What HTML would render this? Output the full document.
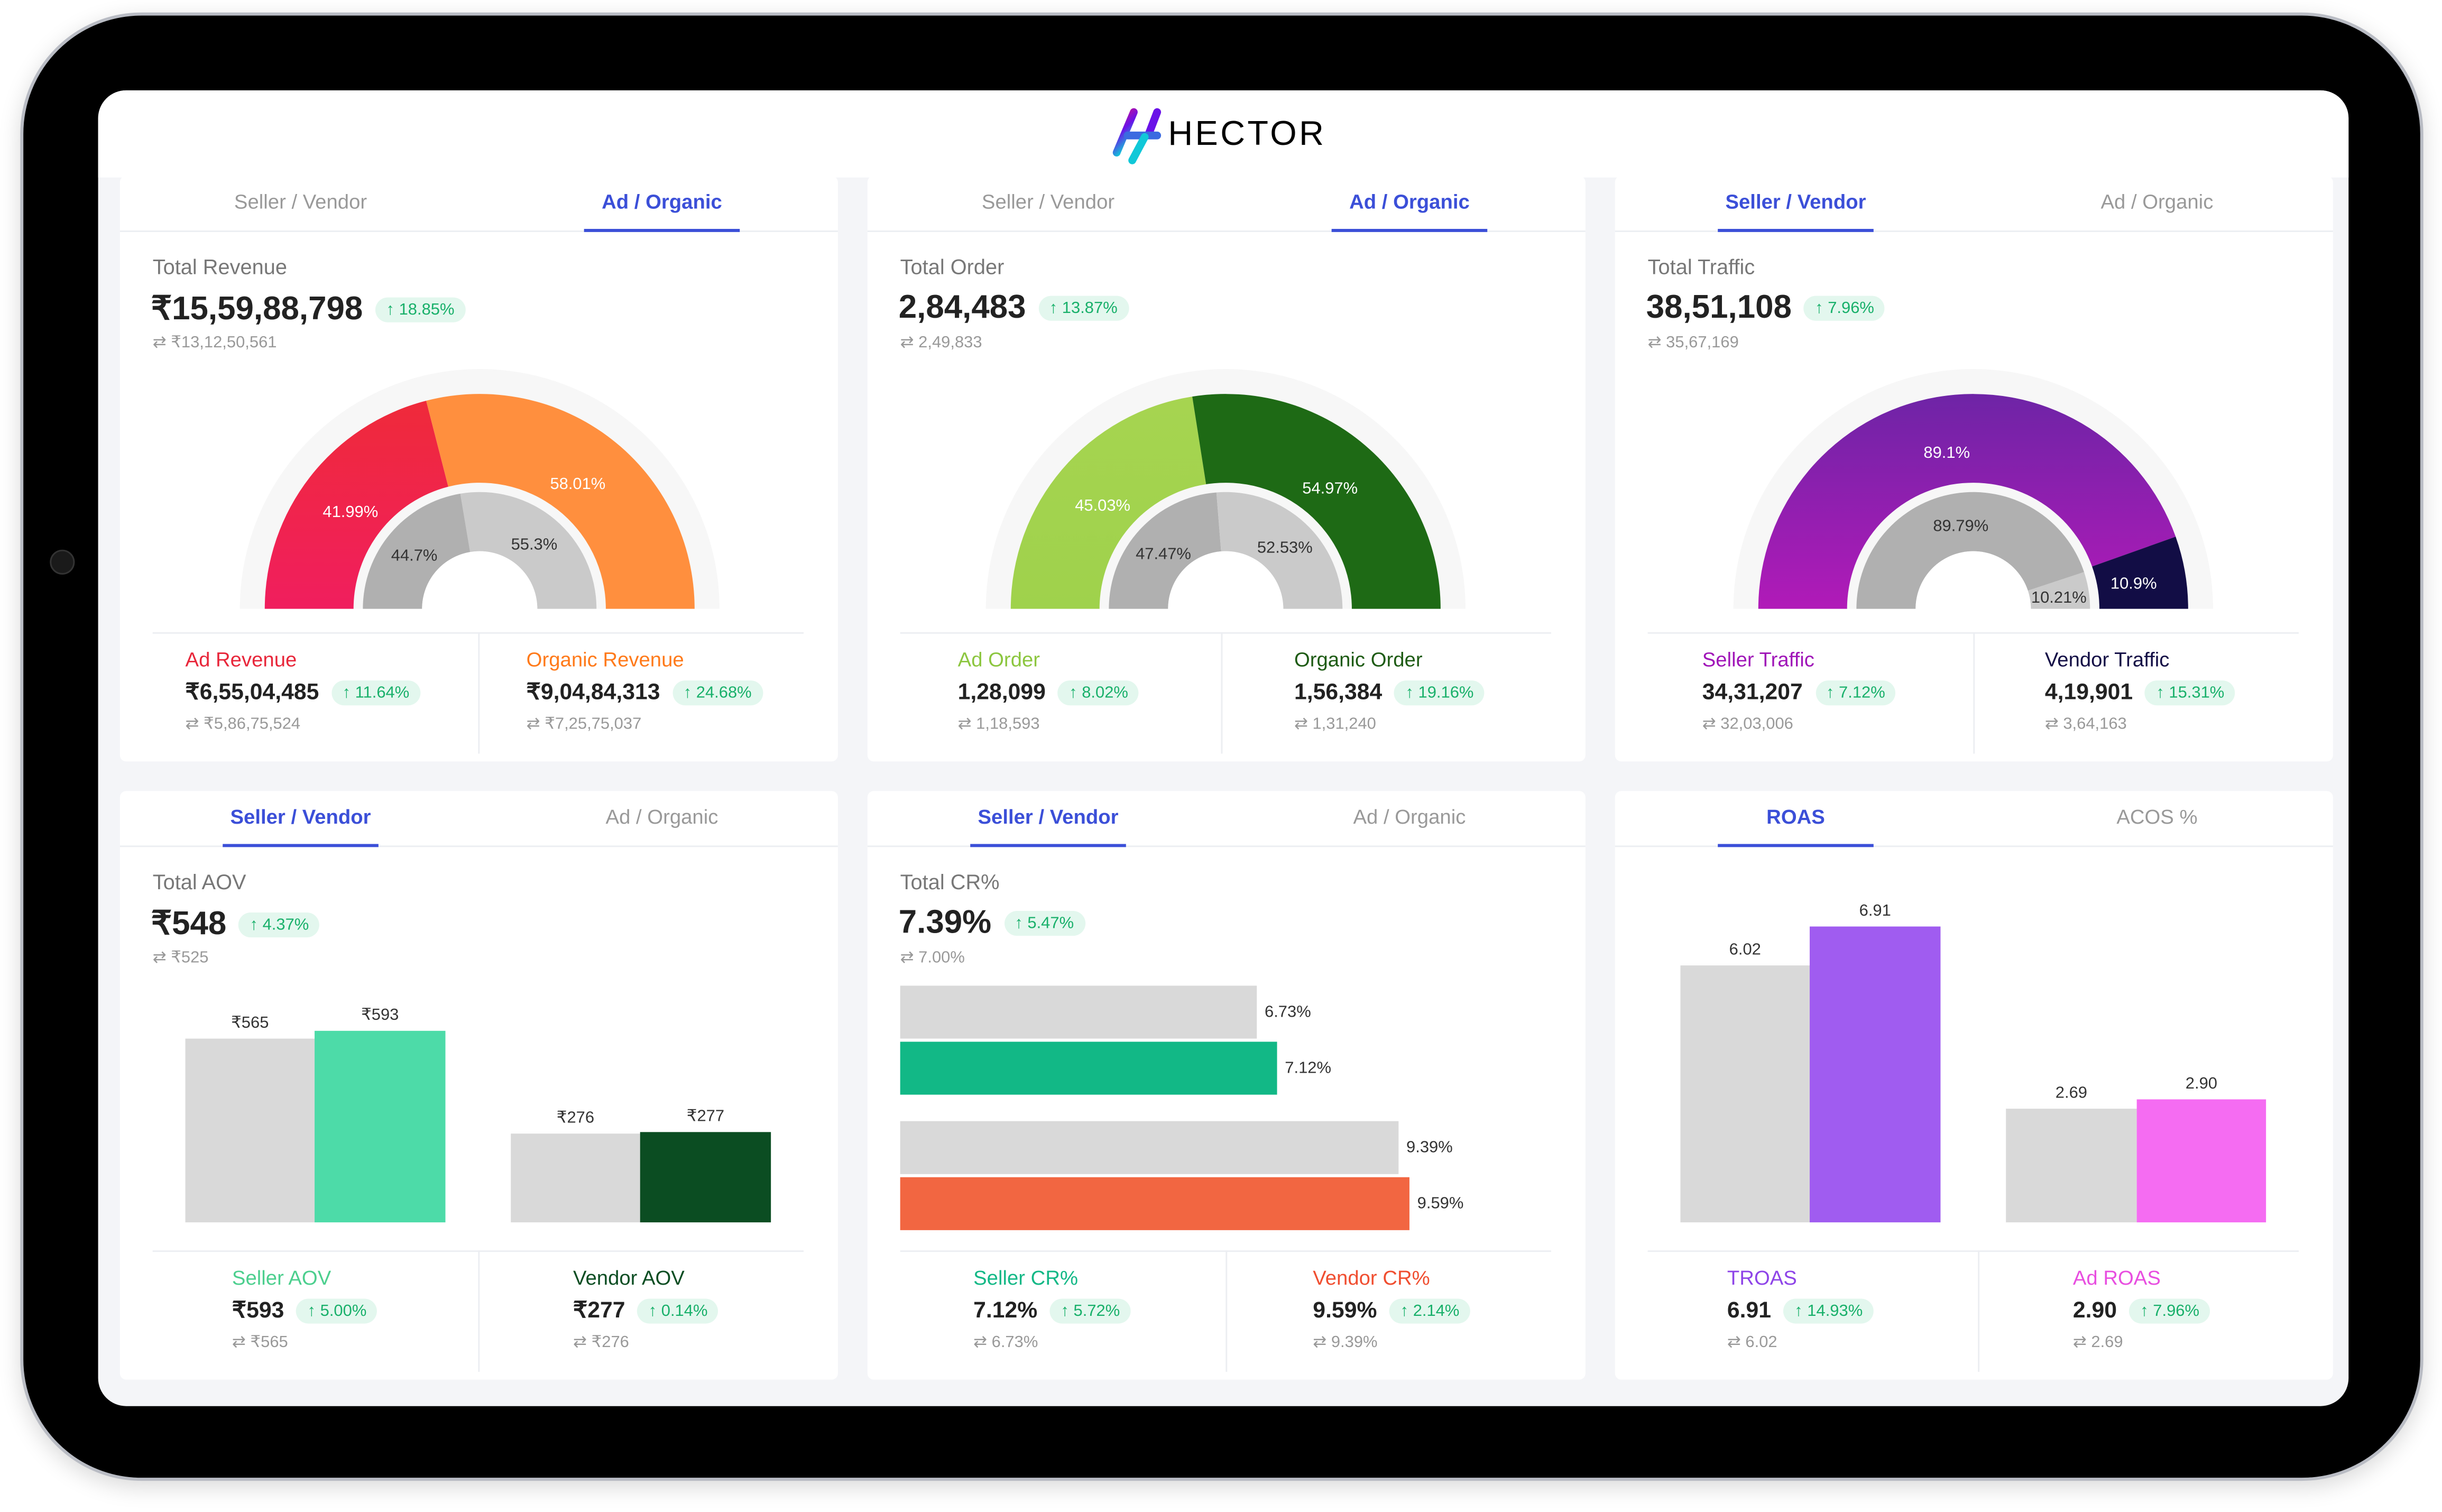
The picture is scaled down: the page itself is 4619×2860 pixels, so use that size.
<!DOCTYPE html>
<html><head><meta charset="utf-8">
<style>
html,body{margin:0;padding:0;background:#fff;}
body{width:4619px;height:2860px;overflow:hidden;position:relative;}
#s{position:absolute;left:0;top:0;width:1568px;height:971px;transform:scale(2.9458,2.9454);transform-origin:0 0;font-family:"Liberation Sans",sans-serif;}
.a{position:absolute;white-space:nowrap;}
.card{position:absolute;background:#fff;border-radius:4px;}
.tab{position:absolute;font-size:13px;color:#999;transform:translateX(-50%);}
.tab.on{color:#3b4fd8;font-weight:bold;}
.ul{position:absolute;height:2px;background:#3b4fd8;}
.ttl{font-size:13.5px;color:#777;}
.big{font-size:21px;font-weight:bold;color:#222;}
.bd{font-size:10.5px;color:#18b06a;background:#e3f7ee;border-radius:9px;padding:2px 7px;}
.sub{font-size:10.5px;color:#999;}
.lab{font-size:13px;}
.val{font-size:14.5px;font-weight:bold;color:#222;}
.hl{position:absolute;height:1px;background:#eceef2;}
.vl{position:absolute;width:1px;background:#eceef2;}
.bl{font-size:10.5px;color:#333;}
</style></head><body>
<div id="s">
<!-- tablet -->
<div class="a" style="left:13px;top:8px;width:1543px;height:943px;border-radius:78px;background:#000;border:2px solid #b9bcc4;box-shadow:0 4px 14px rgba(0,0,0,0.15);box-sizing:border-box;"></div>
<div class="a" style="left:32px;top:353px;width:14px;height:14px;border-radius:50%;background:#1a1a1a;border:1px solid #333;"></div>
<div class="a" style="left:63px;top:58px;width:1445px;height:845px;border-radius:18px;background:#f4f5f8;overflow:hidden;">
 <div class="a" style="left:0;top:0;width:1445px;height:56px;background:#fff;"></div>
</div>
<!-- logo -->
<svg class="a" style="left:712px;top:66px;" width="150" height="42" viewBox="0 0 150 42">
<defs><linearGradient id="lg" x1="0" y1="0" x2="0.4" y2="1"><stop offset="0" stop-color="#e0117e"/><stop offset="0.5" stop-color="#6a12e8"/><stop offset="1" stop-color="#0ccfd8"/></linearGradient></defs>
<line x1="16" y1="6" x2="5" y2="32" stroke="url(#lg)" stroke-width="5" stroke-linecap="round"/>
<line x1="31" y1="6" x2="26" y2="19" stroke="#6a12e8" stroke-width="5" stroke-linecap="round"/>
<line x1="12" y1="21" x2="31" y2="21" stroke="#3b6be0" stroke-width="5" stroke-linecap="round"/>
<line x1="23" y1="22" x2="15" y2="37" stroke="#10c8d8" stroke-width="5" stroke-linecap="round"/>
<text x="38" y="27" font-family="Liberation Sans" font-size="22" letter-spacing="1.5" fill="#000">HECTOR</text>
</svg>
<div id="cards"></div>
</div>
<script>
var S=document.getElementById('s');
function el(h){S.insertAdjacentHTML('beforeend',h);}
var cols=[77,557,1037], W=461;
function card(x,y,h,tabs,on){
 el('<div class="card" style="left:'+x+'px;top:'+y+'px;width:'+W+'px;height:'+h+'px"></div>');
 el('<div class="hl" style="left:'+x+'px;top:'+(y+35)+'px;width:'+W+'px"></div>');
 [116,348].forEach(function(o,i){
  el('<div class="a tab'+(i==on?' on':'')+'" style="left:'+(x+o)+'px;top:'+(y+9)+'px">'+tabs[i]+'</div>');
  if(i==on)el('<div class="ul" style="left:'+(x+o-50)+'px;top:'+(y+34)+'px;width:100px"></div>');
 });
}
function head(x,y,t,v,b,s){
 el('<div class="a ttl" style="left:'+(x+21)+'px;top:'+(y+51)+'px">'+t+'</div>');
 el('<div class="a" style="left:'+(x+20)+'px;top:'+(y+73)+'px;display:flex;align-items:center;gap:8px"><span class="big">'+v+'</span><span class="bd">↑ '+b+'</span></div>');
 el('<div class="a sub" style="left:'+(x+21)+'px;top:'+(y+101)+'px">⇄ '+s+'</div>');
}
function stat(x,y,l,c,v,b,s){
 el('<div class="a lab" style="left:'+x+'px;top:'+y+'px;color:'+c+'">'+l+'</div>');
 el('<div class="a" style="left:'+x+'px;top:'+(y+21)+'px;display:flex;align-items:center;gap:8px"><span class="val">'+v+'</span><span class="bd">↑ '+b+'</span></div>');
 el('<div class="a sub" style="left:'+x+'px;top:'+(y+43)+'px">⇄ '+s+'</div>');
}
function arc(cx,cy,r1,r2,a1,a2,fill){
 function p(r,a){return [cx+r*Math.cos(a*Math.PI/180),cy-r*Math.sin(a*Math.PI/180)];}
 var A=p(r2,a1),B=p(r2,a2),C=p(r1,a2),D=p(r1,a1);
 return '<path d="M'+A+' A'+r2+' '+r2+' 0 0 1 '+B+' L'+C+' A'+r1+' '+r1+' 0 0 0 '+D+' Z" fill="'+fill+'"/>';
}
function gauge(cx,p1,c1,c2,p2,l1,l2,l3,l4,tc,pos){
 var s='<svg class="a" style="left:0;top:0" width="1568" height="971">';
 s+='<defs><linearGradient id="g'+cx+'" x1="0" y1="0" x2="0" y2="1"><stop offset="0" stop-color="'+c1[0]+'"/><stop offset="1" stop-color="'+c1[1]+'"/></linearGradient></defs>';
 var cy=391;
 s+=arc(cx,cy,0.01,154,180,0,'#f7f7f7');
 var a=180-p1*1.8;
 s+=arc(cx,cy,81,138,180,a,'url(#g'+cx+')');
 s+=arc(cx,cy,81,138,a,0,c2);
 var b=180-p2*1.8;
 s+=arc(cx,cy,37,75,180,b,'#b0b0b0');
 s+=arc(cx,cy,37,75,b,0,'#cacaca');
 s+='<circle cx="'+cx+'" cy="'+cy+'" r="37" fill="#fff"/>';
 var L=[l1,l2,l3,l4];
 pos.forEach(function(q,i){s+='<text x="'+(cx+q[0])+'" y="'+(cy+q[1])+'" font-family="Liberation Sans" font-size="10.5" text-anchor="middle" fill="'+(i<2?'#fff':'#333')+'">'+L[i]+'</text>';});
 s+='</svg>';el(s);
}
// Row 1
card(77,113,376,['Seller / Vendor','Ad / Organic'],1);
card(557,113,376,['Seller / Vendor','Ad / Organic'],1);
card(1037,113,376,['Seller / Vendor','Ad / Organic'],0);
head(77,113,'Total Revenue','₹15,59,88,798','18.85%','₹13,12,50,561');
head(557,113,'Total Order','2,84,483','13.87%','2,49,833');
head(1037,113,'Total Traffic','38,51,108','7.96%','35,67,169');
gauge(308,41.99,['#ef2a3a','#f01e5e'],'#ff8f3e',44.7,'41.99%','58.01%','44.7%','55.3%',0,[[-83,-59],[63,-77],[-42,-31],[35,-38]]);
gauge(787,45.03,['#a6d450','#9fd24c'],'#1e6a15',47.47,'45.03%','54.97%','47.47%','52.53%',0,[[-79,-63],[67,-74],[-40,-32],[38,-36]]);
gauge(1267,89.1,['#6e24a6','#b11ab8'],'#120d45',89.79,'89.1%','10.9%','89.79%','10.21%',0,[[-17,-97],[103,-13],[-8,-50],[55,-4]]);
// row1 stats
[77,557,1037].forEach(function(x){
 el('<div class="hl" style="left:'+(x+21)+'px;top:406px;width:418px"></div>');
});
el('<div class="vl" style="left:307px;top:406px;height:78px"></div>');
el('<div class="vl" style="left:784px;top:406px;height:78px"></div>');
el('<div class="vl" style="left:1267px;top:406px;height:78px"></div>');
stat(119,416,'Ad Revenue','#e8263a','₹6,55,04,485','11.64%','₹5,86,75,524');
stat(338,416,'Organic Revenue','#ff7a1a','₹9,04,84,313','24.68%','₹7,25,75,037');
stat(615,416,'Ad Order','#8cc63f','1,28,099','8.02%','1,18,593');
stat(831,416,'Organic Order','#1e5b14','1,56,384','19.16%','1,31,240');
stat(1093,416,'Seller Traffic','#a015b8','34,31,207','7.12%','32,03,006');
stat(1313,416,'Vendor Traffic','#120d45','4,19,901','15.31%','3,64,163');
// Row 2
card(77,508,378,['Seller / Vendor','Ad / Organic'],0);
card(557,508,378,['Seller / Vendor','Ad / Organic'],0);
card(1037,508,378,['ROAS','ACOS %'],0);
head(77,508,'Total AOV','₹548','4.37%','₹525');
head(557,508,'Total CR%','7.39%','5.47%','7.00%');
function bar(x,t,w,b,c,l,lx){el('<div class="a" style="left:'+x+'px;top:'+t+'px;width:'+w+'px;height:'+(b-t)+'px;background:'+c+'"></div>');
 if(l)el('<div class="a bl" style="left:'+x+'px;width:'+w+'px;text-align:center;top:'+(t-16)+'px">'+l+'</div>');}
bar(119,667,83,785,'#d9d9d9','₹565');bar(202,662,84,785,'#4ddba8','₹593');
bar(328,728,83,785,'#d9d9d9','₹276');bar(411,727,84,785,'#0b4d22','₹277');
bar(1079,620,83,785,'#d9d9d9','6.02');bar(1162,595,84,785,'#a05cf0','6.91');
bar(1288,712,84,785,'#d9d9d9','2.69');bar(1372,706,83,785,'#f56cf2','2.90');
function hb(y,w,c,l){el('<div class="a" style="left:578px;top:'+y+'px;width:'+w+'px;height:34px;background:'+c+'"></div>');
 el('<div class="a bl" style="left:'+(578+w+5)+'px;top:'+(y+11)+'px">'+l+'</div>');}
hb(633,229,'#d9d9d9','6.73%');hb(669,242,'#12b886','7.12%');hb(720,320,'#d9d9d9','9.39%');hb(756,327,'#f26641','9.59%');
[77,557,1037].forEach(function(x){el('<div class="hl" style="left:'+(x+21)+'px;top:803px;width:418px"></div>');});
el('<div class="vl" style="left:307px;top:803px;height:78px"></div>');
el('<div class="vl" style="left:787px;top:803px;height:78px"></div>');
el('<div class="vl" style="left:1270px;top:803px;height:78px"></div>');
stat(149,813,'Seller AOV','#4ccf8e','₹593','5.00%','₹565');
stat(368,813,'Vendor AOV','#0b4d22','₹277','0.14%','₹276');
stat(625,813,'Seller CR%','#12b886','7.12%','5.72%','6.73%');
stat(843,813,'Vendor CR%','#f04e30','9.59%','2.14%','9.39%');
stat(1109,813,'TROAS','#8e44e8','6.91','14.93%','6.02');
stat(1331,813,'Ad ROAS','#e84ee0','2.90','7.96%','2.69');
</script>
</body></html>
